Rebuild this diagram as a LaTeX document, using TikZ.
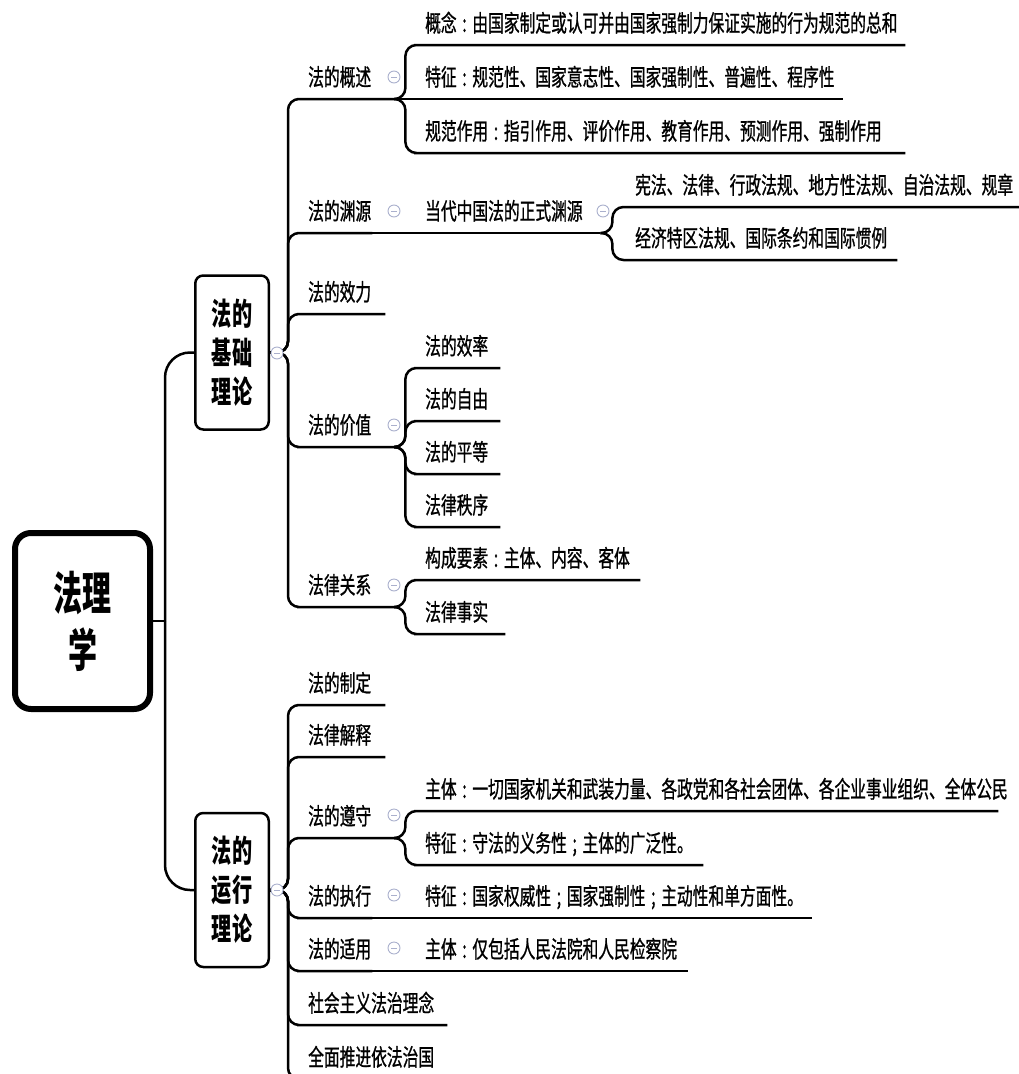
\documentclass[tikz,border=0pt]{standalone}
\usepackage{fontspec}
\setmainfont{Noto Sans CJK SC}[FakeStretch=0.67, FakeBold=0.9]
\newfontfamily\boxfont{Noto Sans CJK SC}[FakeStretch=0.65]
\newfontfamily\rootfont{Noto Sans CJK SC}[FakeStretch=0.63]
\newcommand\fcolon{\makebox[15.7pt]{:}}
\newcommand\fsemi{\makebox[15.7pt]{;}}
\definecolor{foldline}{RGB}{170,176,205}
\tikzset{
  link/.style={line width=2.5pt, rounded corners=11pt},
  topic/.style={anchor=south west, inner xsep=0pt, inner ysep=1pt, text height=20pt, text depth=12pt,
    align=left, text width=#1, font=\fontsize{23.5}{26}\selectfont},
  box/.style={draw, rounded corners=8pt, line width=2.5pt, minimum width=73.5pt, minimum height=154pt,
    inner sep=0pt, align=center, font=\boxfont\bfseries\fontsize{31}{39}\selectfont},
  fold/.style={circle, draw=foldline, line width=0.9pt, fill=white, minimum size=12pt, inner sep=0pt,
    path picture={\draw[foldline, line width=0.9pt] ([xshift=-3pt]path picture bounding box.center) -- ([xshift=3pt]path picture bounding box.center);}},
}
\begin{document}
\begin{tikzpicture}[x=1pt, y=-1pt]
\useasboundingbox (0,0) rectangle (1019,1074);
% centre and the two main boxes
\node[box, line width=6pt, rounded corners=16pt, minimum width=135pt, minimum height=176pt,
  font=\rootfont\bfseries\fontsize{46}{57}\selectfont] (root) at (82.5,621) {法理\\学};
\node[box] (jichu) at (232,352.5) {法的\\基础\\理论};
\node[box] (yunxing) at (232,890) {法的\\运行\\理论};
% 法的基础理论
\node[topic=87pt] (gaishu) at (308,99) {法的概述};
\node[topic=64pt] (yuanyuan) at (308,233) {法的渊源};
\node[topic=77pt] (xiaoli) at (308,314) {法的效力};
\node[topic=87pt] (jiazhi) at (308,447) {法的价值};
\node[topic=87pt] (guanxi) at (308,607) {法律关系};
\node[topic=480pt] (gainian) at (425,45) {概念\fcolon 由国家制定或认可并由国家强制力保证实施的行为规范的总和};
\node[topic=418pt] (tezheng) at (425,99) {特征\fcolon 规范性、国家意志性、国家强制性、普遍性、程序性};
\node[topic=480pt] (zuoyong) at (425,153) {规范作用\fcolon 指引作用、评价作用、教育作用、预测作用、强制作用};
\node[topic=175pt] (dangdai) at (425,233) {当代中国法的正式渊源};
\node[topic=384pt] (xianfa) at (635,207) {宪法、法律、行政法规、地方性法规、自治法规、规章};
\node[topic=262pt] (jingji) at (635,260) {经济特区法规、国际条约和国际惯例};
\node[topic=75pt] (xiaolv) at (425,368) {法的效率};
\node[topic=75pt] (ziyou) at (425,421) {法的自由};
\node[topic=75pt] (pingdeng) at (425,474) {法的平等};
\node[topic=75pt] (zhixu) at (425,527) {法律秩序};
\node[topic=215pt] (yaosu) at (425,580) {构成要素\fcolon 主体、内容、客体};
\node[topic=80pt] (shishi) at (425,634) {法律事实};
% 法的运行理论
\node[topic=77pt] (zhiding) at (308,705) {法的制定};
\node[topic=77pt] (jieshi) at (308,757) {法律解释};
\node[topic=87pt] (zunshou) at (308,838) {法的遵守};
\node[topic=64pt] (zhixing) at (308,918) {法的执行};
\node[topic=64pt] (shiyong) at (308,971) {法的适用};
\node[topic=139pt] (linian) at (308,1025) {社会主义法治理念};
\node[topic=139pt] (yifa) at (308,1079) {全面推进依法治国};
\node[topic=573pt] (zhuti) at (425,811) {主体\fcolon 一切国家机关和武装力量、各政党和各社会团体、各企业事业组织、全体公民};
\node[topic=278pt] (shoufa) at (425,865) {特征\fcolon 守法的义务性\fsemi 主体的广泛性。};
\node[topic=387pt] (quanwei) at (425,918) {特征\fcolon 国家权威性\fsemi 国家强制性\fsemi 主动性和单方面性。};
\node[topic=263pt] (fayuan) at (425,971) {主体\fcolon 仅包括人民法院和人民检察院};
% connectors
\draw[link] (root.east) -- ++(12,0);
\draw[link, rounded corners=25pt] ([xshift=12pt]root.east) |- (jichu.west);
\draw[link, rounded corners=25pt] ([xshift=12pt]root.east) |- (yunxing.west);
\draw[link] (jichu.east) -- ++(18,0) |- (gaishu.south west) -- (gaishu.south east);
\draw[link] (jichu.east) -- ++(18,0) |- (yuanyuan.south west) -- (yuanyuan.south east);
\draw[link] (jichu.east) -- ++(18,0) |- (xiaoli.south west) -- (xiaoli.south east);
\draw[link] (jichu.east) -- ++(18,0) |- (jiazhi.south west) -- (jiazhi.south east);
\draw[link] (jichu.east) -- ++(18,0) |- (guanxi.south west) -- (guanxi.south east);
\draw[link] (gaishu.south east) -- ++(10,0) |- (gainian.south west) -- (gainian.south east);
\draw[link] (gaishu.south east) -- (tezheng.south west) -- (tezheng.south east);
\draw[link] (gaishu.south east) -- ++(10,0) |- (zuoyong.south west) -- (zuoyong.south east);
\draw[link] (yuanyuan.south east) -- (dangdai.south west) -- (dangdai.south east);
\draw[link] (dangdai.south east) -- ++(12,0) |- (xianfa.south west) -- (xianfa.south east);
\draw[link] (dangdai.south east) -- ++(12,0) |- (jingji.south west) -- (jingji.south east);
\draw[link] (jiazhi.south east) -- ++(10,0) |- (xiaolv.south west) -- (xiaolv.south east);
\draw[link] (jiazhi.south east) -- ++(10,0) |- (ziyou.south west) -- (ziyou.south east);
\draw[link] (jiazhi.south east) -- ++(10,0) |- (pingdeng.south west) -- (pingdeng.south east);
\draw[link] (jiazhi.south east) -- ++(10,0) |- (zhixu.south west) -- (zhixu.south east);
\draw[link] (guanxi.south east) -- ++(10,0) |- (yaosu.south west) -- (yaosu.south east);
\draw[link] (guanxi.south east) -- ++(10,0) |- (shishi.south west) -- (shishi.south east);
\draw[link] (yunxing.east) -- ++(18,0) |- (zhiding.south west) -- (zhiding.south east);
\draw[link] (yunxing.east) -- ++(18,0) |- (jieshi.south west) -- (jieshi.south east);
\draw[link] (yunxing.east) -- ++(18,0) |- (zunshou.south west) -- (zunshou.south east);
\draw[link] (yunxing.east) -- ++(18,0) |- (zhixing.south west) -- (zhixing.south east);
\draw[link] (yunxing.east) -- ++(18,0) |- (shiyong.south west) -- (shiyong.south east);
\draw[link] (yunxing.east) -- ++(18,0) |- (linian.south west) -- (linian.south east);
\draw[link] (yunxing.east) -- ++(18,0) |- (yifa.south west) -- (yifa.south east);
\draw[link] (zunshou.south east) -- ++(10,0) |- (zhuti.south west) -- (zhuti.south east);
\draw[link] (zunshou.south east) -- ++(10,0) |- (shoufa.south west) -- (shoufa.south east);
\draw[link] (zhixing.south east) -- (quanwei.south west) -- (quanwei.south east);
\draw[link] (shiyong.south east) -- (fayuan.south west) -- (fayuan.south east);
% collapse marks
\node[fold] (jichu-f) at (277,353) {};
\node[fold] (yunxing-f) at (277,890) {};
\node[fold] (gaishu-f) at (394,77) {};
\node[fold] (yuanyuan-f) at (394,211) {};
\node[fold] (dangdai-f) at (603,211) {};
\node[fold] (jiazhi-f) at (394,425) {};
\node[fold] (guanxi-f) at (394,585) {};
\node[fold] (zunshou-f) at (394,815) {};
\node[fold] (zhixing-f) at (394,895) {};
\node[fold] (shiyong-f) at (394,948) {};
\end{tikzpicture}
\end{document}
